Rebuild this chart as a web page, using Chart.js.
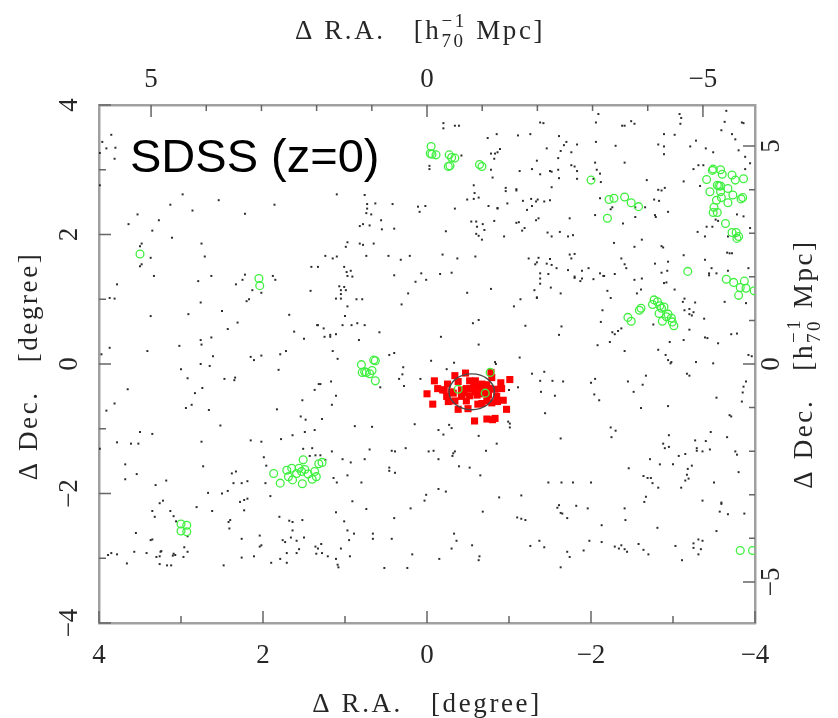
<!DOCTYPE html>
<html>
<head>
<meta charset="utf-8">
<script src="https://cdn.jsdelivr.net/npm/chart.js@4.4.0/dist/chart.umd.min.js"></script>
<style>
  html, body { margin: 0; padding: 0; background: #fff; }
  #wrap { width: 838px; height: 718px; }
</style>
</head>
<body>
<div id="wrap"><canvas id="sky" width="838" height="718"></canvas></div>
<script>
// [dRA, dDec] in degrees
const fieldGalaxies = [
  [3.85,3.54],[3.96,3.43],[3.91,3.33],[3.80,3.34],[3.99,3.26],[3.81,3.17],[3.99,2.76],[2.98,2.62],
  [2.54,2.53],[1.86,2.46],[3.13,2.46],[2.86,2.37],[3.53,2.31],[2.22,2.32],[3.27,2.22],[3.64,2.16],
  [3.35,2.06],[3.11,1.95],[2.75,1.86],[3.48,1.86],[3.50,1.82],[3.37,1.64],[2.71,1.66],[3.48,1.54],
  [3.50,1.51],[1.41,1.50],[1.33,1.50],[3.33,1.36],[2.63,1.36],[2.22,1.38],[1.88,1.36],
  [1.85,1.30],[2.25,1.30],[3.78,1.23],[2.33,1.23],[2.79,1.28],[2.13,1.14],[2.02,1.10],[1.42,1.13],
  [2.17,1.00],[2.20,0.97],[3.87,1.02],[3.81,1.01],[2.76,0.95],[2.50,0.82],[3.37,0.74],[2.91,0.77],
  [1.68,0.76],[2.31,0.64],[1.34,0.60],[2.43,0.54],[1.62,0.50],[2.63,0.41],[1.50,0.39],[2.76,0.37],
  [2.75,0.30],[3.02,0.28],[3.87,0.25],[3.41,0.20],[3.97,0.15],[2.61,0.12],[2.15,0.11],[2.11,0.06],
  [2.02,0.13],[1.79,0.15],[1.72,0.20],[2.76,0.00],[2.65,-0.03],[3.00,-0.08],[1.81,-0.09],[2.92,-0.22],
  [2.47,-0.23],[2.34,-0.21],[2.35,-0.25],[3.65,-0.39],[2.74,-0.37],[2.83,-0.45],[1.37,-0.40],[1.32,-0.31],
  [3.81,-0.61],[1.52,-0.56],[3.91,-0.72],[2.87,-0.63],[2.94,-0.68],[2.66,-0.71],[1.83,-0.70],[1.54,-0.81],
  [1.48,-0.86],[2.52,-0.95],[3.50,-1.05],[3.35,-1.08],[1.49,-1.05],[1.37,-1.02],[1.64,-1.10],[3.78,-1.21],
  [3.61,-1.23],[3.52,-1.23],[2.75,-1.20],[2.15,-1.18],[2.02,-1.20],[1.78,-1.16],[1.51,-1.31],[1.40,-1.30],
  [3.99,-1.31],
  [3.68,-1.55],[3.54,-1.70],[3.68,-1.78],[2.73,-1.58],[3.31,-1.87],[3.18,-1.80],[2.38,-1.69],[2.33,-1.66],
  [2.36,-1.84],[2.26,-1.84],[2.19,-1.81],[1.99,-1.44],[1.96,-1.57],[1.97,-1.84],[1.91,-2.04],[2.67,-1.99],
  [2.50,-2.00],[2.43,-1.96],[3.26,-2.15],[3.22,-2.11],[2.28,-2.13],[2.23,-2.10],[2.19,-2.08],[3.35,-2.27],
  [3.13,-2.27],[2.81,-2.21],[2.62,-2.27],[2.23,-2.26],[3.32,-2.36],[3.09,-2.35],[3.06,-2.43],[2.40,-2.41],
  [2.42,-2.44],[2.41,-2.54],[2.92,-2.66],[3.55,-2.61],[3.35,-2.71],[3.37,-2.72],[2.96,-2.83],[2.92,-2.90],
  [3.07,-2.95],[3.10,-2.96],[3.09,-2.93],[2.97,-2.98],[3.24,-2.89],[3.25,-2.90],[3.30,-2.98],[3.26,-2.97],
  [3.57,-2.90],[3.42,-2.92],[3.89,-2.95],[3.85,-2.92],[3.78,-2.94],[3.66,-3.08],[3.26,-3.09],[3.17,-3.11],
  [3.12,-3.11],[2.48,-3.11],[2.26,-2.99],[2.11,-2.97],[2.26,-2.70],[2.04,-2.65],[2.02,-2.80],[2.04,-2.82],
  [1.80,-2.36],[1.68,-2.42],[1.64,-2.44],[1.52,-2.41],[1.64,-2.57],[1.76,-2.72],[1.73,-2.75],[1.66,-2.68],
  [1.59,-2.73],[1.50,-2.68],[1.56,-2.86],[1.59,-2.92],[1.71,-2.92],[1.79,-3.01],[1.90,-3.07],[1.71,-3.07],
  [1.36,-2.82],[1.35,-2.93],[1.33,-2.85],[1.43,-1.42],[1.36,-1.41],
  [1.30,-1.41],[1.24,-1.48],[1.16,-1.35],[1.03,-1.47],[0.93,-1.52],[0.76,-1.47],[0.46,-1.60],[0.46,-1.65],
  [0.39,-1.68],[0.97,-1.72],[1.14,-1.76],[1.10,-1.83],[0.80,-1.83],[0.43,-1.34],[0.39,-1.35],[-0.02,-1.35],
  [-0.08,-1.34],[-0.32,-1.38],[-0.31,-1.42],[-0.34,-1.35],[-0.14,-1.47],[-0.39,-1.58],[-0.52,-1.60],[-0.65,-1.72],
  [-0.72,-1.34],[0.91,-2.12],[0.74,-2.24],[1.11,-2.29],[0.40,-2.38],[0.20,-2.23],[0.03,-2.11],[0.01,-2.02],
  [-0.14,-1.93],[-0.23,-1.97],[-0.68,-2.28],[-0.88,-2.06],[-1.15,-2.03],[1.01,-2.43],[0.97,-2.57],[0.89,-2.62],
  [0.95,-2.72],[0.66,-2.62],[0.66,-2.70],[0.43,-2.70],[1.05,-2.85],[0.94,-2.97],[1.28,-2.92],[1.21,-2.97],
  [1.29,-2.78],[1.11,-3.01],[1.09,-3.10],[1.08,-3.14],[0.52,-3.15],[0.24,-3.15],[0.18,-2.94],[-0.15,-3.01],
  [-0.33,-2.62],[-0.36,-2.73],[-0.30,-2.85],[-0.55,-2.80],[-0.64,-2.97],[-0.63,-3.03],[-1.10,-2.37],[-1.15,-2.39],
  [-1.20,-2.41],[-1.26,-2.81],[-1.37,-2.73],
  [-2.72,-1.47],[-2.84,-1.55],[-3.00,-1.55],[-3.07,-1.42],[-3.15,-1.39],[-3.29,-1.34],[-3.36,-1.35],[-3.18,-1.62],
  [-3.23,-1.57],[-2.46,-1.61],[-3.78,-1.40],[-3.80,-1.67],[-1.48,-1.83],[-1.64,-1.83],[-1.78,-1.83],[-2.00,-1.83],
  [-2.64,-1.73],[-2.69,-1.76],[-2.73,-1.76],[-2.75,-1.84],[-2.82,-1.91],[-3.17,-1.71],[-3.19,-1.77],[-3.15,-1.80],
  [-3.10,-1.91],[-3.50,-1.83],[-2.67,-2.05],[-2.65,-2.13],[-3.36,-2.11],[-3.59,-2.14],[-3.59,-2.16],[-3.57,-2.28],
  [-3.67,-2.32],[-3.87,-2.31],[-1.61,-2.18],[-1.59,-2.22],[-1.63,-2.30],[-1.65,-2.31],[-1.71,-2.38],[-1.82,-2.19],
  [-1.96,-2.23],[-2.41,-2.23],[-2.42,-2.41],[-2.13,-2.49],[-2.81,-2.53],[-3.53,-2.58],[-1.43,-2.83],[-1.71,-2.90],
  [-1.74,-2.98],[-1.63,-3.14],[-1.91,-2.88],[-1.98,-2.73],[-2.13,-2.75],[-2.29,-2.82],[-2.34,-2.85],[-2.37,-2.80],
  [-2.41,-2.86],[-2.44,-2.90],[-2.58,-2.78],[-2.64,-2.87],[-2.70,-2.94],[-3.03,-2.81],[-3.11,-3.03],[-3.25,-2.77],
  [-3.25,-2.84],[-3.31,-2.71],[-3.36,-2.73],[-3.34,-2.86],[-3.31,-2.94],
  [0.97,1.36],[0.91,1.35],[0.40,1.37],[0.14,1.27],[0.01,1.30],[1.07,1.20],[1.01,1.19],[1.05,1.14],
  [0.99,1.14],[1.11,1.01],[1.05,1.01],[1.05,1.08],[0.86,1.00],[0.79,1.00],[0.97,0.89],[0.31,0.92],
  [0.23,1.09],[-0.49,1.10],[-0.78,1.16],[-1.31,1.14],[-1.34,1.03],[-1.14,1.00],[-1.06,0.89],[1.00,0.74],
  [1.33,0.60],[1.26,0.55],[1.25,0.42],[1.18,0.45],[1.18,0.42],[1.11,0.46],[1.03,0.60],[0.92,0.60],
  [0.85,0.63],[0.76,0.60],[0.83,0.37],[0.58,0.49],[-0.17,0.42],[-0.63,0.68],[-0.56,0.63],[-0.63,0.30],
  [-1.20,0.59],[1.15,0.20],[1.09,0.08],[0.46,0.14],[0.40,0.17],[0.29,-0.05],[0.30,-0.16],[0.34,-0.23],
  [0.28,-0.34],[0.57,-0.36],[0.08,-0.23],[-0.05,0.05],[-0.24,-0.08],[-0.33,0.02],[-0.83,0.03],[-0.84,0.00],
  [-1.13,0.10],[-1.28,-0.15],[-1.11,-0.36],[-1.00,-0.40],[1.30,-0.31],[1.17,-0.27],[1.11,-0.49],[1.16,-0.63],
  [1.28,-0.85],[0.88,-0.96],[0.67,-0.97],[0.15,-0.93],[-0.14,-1.02],[-0.20,-1.09],[-0.30,-0.99],[-0.27,-0.94],
  [-0.63,-1.11],[-0.99,-0.89],[-1.01,-0.92],[-1.01,-0.98],[-0.85,-1.23],[0.70,-1.32],[0.26,-1.30],
  [-0.20,3.72],[-0.20,3.64],[-0.34,3.68],[-0.39,3.68],[-0.85,3.55],[-0.74,3.49],[-1.11,3.53],[-1.26,3.55],
  [-0.89,3.32],[-0.78,3.25],[-0.83,3.25],[-0.86,3.27],[-0.42,3.22],[-0.82,3.17],[-0.03,3.06],[-0.03,3.01],
  [-0.78,3.00],[-0.80,2.88],[-1.13,2.98],[-1.28,3.01],[-1.34,3.14],[-0.57,2.76],[-0.58,2.64],[-0.63,2.57],
  [-0.57,2.55],[-0.49,2.54],[-0.96,2.72],[-0.96,2.67],[-1.09,2.70],[-1.09,2.68],[-0.98,2.48],[-1.17,2.52],
  [-1.27,2.55],[-0.75,2.44],[-0.86,2.41],[-0.86,2.40],[-1.22,2.38],[-1.28,2.44],[-1.33,2.51],[1.10,2.62],
  [0.76,2.61],[0.73,2.47],[0.63,2.48],[0.73,2.40],[0.74,2.33],[0.68,2.31],[0.42,2.47],[0.11,2.43],
  [0.02,2.44],[0.09,2.35],[-0.34,2.40],[0.56,2.22],[0.82,2.13],[0.78,2.16],[0.70,2.14],[0.55,2.08],
  [0.40,2.09],[-0.23,2.05],[-0.54,2.20],[-0.60,2.20],[-0.61,2.12],[-0.68,2.16],[-0.70,2.07],[-0.60,2.01],
  [-0.63,1.98],[-0.67,1.92],[-0.82,2.21],[-0.94,1.97],[-1.09,2.18],[-1.12,2.19],[-1.19,2.10],[-1.16,2.06],
  [-1.33,2.22],[1.24,1.67],[1.15,1.63],[1.10,1.66],[0.99,1.81],[0.97,1.88],[0.82,1.86],[0.78,1.84],
  [0.65,1.86],[1.01,1.50],[0.93,1.44],[0.98,1.42],[0.74,1.67],[0.47,1.67],[0.32,1.61],[0.21,1.67],
  [-0.19,1.69],[-0.37,1.63],[-0.59,1.66],[0.07,1.40],[-0.16,1.39],[-0.30,1.41],[-1.32,1.54],[-1.36,1.64],
  [-1.24,1.63],
  [-1.38,3.73],[-1.42,3.72],[-2.06,3.73],[-2.09,3.86],[-2.38,3.68],[-2.41,3.68],[-2.49,3.75],[-2.53,3.71],
  [-3.08,3.86],[-3.10,3.80],[-3.09,3.71],[-3.65,3.91],[-3.63,3.74],[-3.84,3.73],[-3.86,3.72],[-1.61,3.52],
  [-1.70,3.43],[-1.67,3.38],[-1.83,3.39],[-1.76,3.27],[-1.46,3.33],[-1.63,3.29],[-2.06,3.43],[-2.30,3.37],
  [-2.41,3.11],[-2.82,3.39],[-2.89,3.36],[-2.89,3.24],[-3.02,3.54],[-2.89,3.55],[-3.28,3.45],[-3.21,3.36],
  [-3.40,3.33],[-3.49,3.27],[-3.76,3.47],[-3.80,3.30],[-3.88,3.20],[-3.59,3.61],[-3.72,3.55],[-1.60,3.18],
  [-1.52,2.97],[-1.60,3.00],[-1.76,3.07],[-1.80,3.05],[-1.83,2.98],[-2.05,3.11],[-2.07,3.00],[-2.11,2.94],
  [-1.38,2.93],[-1.50,2.98],[-1.61,2.87],[-1.83,2.86],[-2.03,2.86],[-2.12,2.81],[-2.68,2.84],[-3.25,3.01],
  [-3.31,3.07],[-3.37,3.07],[-1.52,2.73],[-3.13,2.82],[-3.33,2.75],[-3.88,3.01],[-3.94,3.10],[-2.82,2.69],
  [-2.90,2.72],[-2.86,2.68],[-1.35,2.54],[-1.43,2.51],[-1.50,2.53],[-2.11,2.56],[-2.77,2.54],[-2.83,2.52],
  [-2.26,2.42],[-2.24,2.39],[-2.54,2.42],[-2.54,2.27],[-2.39,2.17],[-2.78,2.30],[-2.79,2.27],[-2.94,2.35],
  [-2.66,2.42],[-1.74,2.25],[-2.05,2.30],[-1.36,2.25],[-3.52,2.23],[-3.41,2.12],[-3.48,2.12],[-3.55,2.21],
  [-3.78,2.31],[-3.86,2.28],[-3.94,2.10],[-1.47,2.03],[-1.52,1.97],[-1.72,1.97],[-1.78,1.99],[-1.62,2.04],
  [-2.28,1.87],[-2.53,1.81],[-2.62,1.92],[-2.86,1.82],[-2.88,1.80],[-3.30,2.04],[-3.39,1.97],[-3.67,1.97],
  [-3.76,1.97],[-3.13,1.68],[-3.66,1.72],[-3.72,1.71],[-3.69,1.71],[-1.34,1.57],[-1.46,1.55],[-1.50,1.62],
  [-1.52,1.53],[-1.80,1.70],[-1.74,1.69],[-1.76,1.63],[-1.38,1.40],[-1.48,1.39],[-1.58,1.48],[-1.72,1.45],
  [-1.80,1.35],[-1.89,1.44],[-1.97,1.48],[-2.11,1.40],[-2.16,1.36],[-2.29,1.39],[-2.41,1.54],[-2.43,1.48],
  [-2.37,1.63],[-2.78,1.55],[-2.86,1.41],[-2.93,1.44],[-2.94,1.58],[-3.39,1.61],[-3.47,1.48],[-3.53,1.40],
  [-3.44,1.40],[-3.67,1.44],[-3.92,1.48],
  [-1.38,1.32],[-1.38,1.24],[-1.34,1.02],[-1.51,1.18],[-1.63,1.09],[-1.80,1.33],[-1.87,1.28],[-1.89,1.32],
  [-2.03,1.31],[-2.15,1.36],[-2.20,1.13],[-2.24,1.02],[-2.53,1.30],[-2.62,1.32],[-2.56,1.09],[-2.61,1.15],
  [-2.92,1.26],[-2.89,1.25],[-3.02,1.15],[-3.12,0.96],[-3.14,1.01],[-3.27,0.95],[-3.44,1.37],[-3.63,0.96],
  [-3.89,0.94],[-2.14,0.83],[-2.12,0.65],[-2.37,0.55],[-2.29,0.46],[-2.26,0.49],[-2.33,0.51],[-2.08,0.29],
  [-2.23,0.34],[-2.41,0.20],[-2.76,0.61],[-2.96,0.34],[-3.13,0.37],[-3.20,0.53],[-3.20,0.77],[-3.23,0.75],
  [-3.25,0.80],[-3.14,0.83],[-3.20,0.85],[-3.38,0.70],[-3.39,0.41],[-3.42,0.40],[-3.55,0.32],[-3.71,0.46],
  [-3.78,0.47],[-3.92,0.14],[-3.96,0.12],[-2.82,0.22],[-2.91,0.14],[-2.94,0.06],[-2.97,0.01],[-2.98,0.03],
  [-3.28,0.03],[-3.49,0.01],[-1.64,0.58],[-1.61,0.45],[-1.43,-0.12],[-1.38,-0.26],[-1.53,-0.26],[-1.66,-0.27],
  [-1.39,-0.43],[-1.56,-0.49],[-1.44,-0.76],[-1.63,-1.15],[-2.00,-0.29],[-2.05,-0.23],[-2.04,-0.47],[-2.10,-0.56],
  [-2.45,-0.27],[-2.52,-0.43],[-2.67,-0.18],[-2.63,-0.32],[-2.61,-0.68],[-2.94,-0.65],[-3.17,-0.15],[-3.20,-0.18],
  [-3.53,-0.52],[-3.69,-0.79],[-3.71,-0.81],[-3.84,-0.58],[-3.85,-0.44],[-3.89,-0.27],[-3.86,-0.35],[-3.46,-1.05],
  [-3.66,-1.13],[-3.27,-1.18],[-3.40,-1.19],[-3.29,-1.30],[-3.45,-1.32],[-2.95,-1.10],[-2.88,-1.23],[-2.90,-1.30],
  [-2.95,-1.28],[-2.24,-0.98],[-2.30,-1.03],[-2.25,-1.13],[-3.76,-1.35]
];

const groupMembers = [
  [3.50,1.70],[2.05,1.32],[2.04,1.21],
  [0.65,0.06],[0.63,0.05],[0.80,-0.01],[0.67,-0.10],[0.79,-0.13],[0.74,-0.13],[0.70,-0.15],[0.76,-0.12],[0.63,-0.26],
  [-0.38,-0.39],[-0.71,-0.45],[-0.77,-0.13],
  [3.00,-2.47],[2.93,-2.49],[3.00,-2.58],[2.93,-2.59],
  [1.87,-1.69],[1.79,-1.84],[1.71,-1.64],[1.69,-1.74],[1.65,-1.61],[1.64,-1.79],[1.59,-1.69],[1.56,-1.61],
  [1.53,-1.66],[1.51,-1.48],[1.52,-1.85],[1.49,-1.63],[1.45,-1.70],[1.40,-1.78],[1.37,-1.66],[1.32,-1.54],
  [1.28,-1.52],[1.35,-1.74],
  [-0.05,3.36],[-0.04,3.25],[-0.06,3.24],[-0.11,3.23],[-0.27,3.23],[-0.30,3.19],[-0.34,3.18],[-0.28,3.06],
  [-0.26,3.05],[-0.64,3.08],[-0.67,3.05],
  [-2.00,2.84],[-2.22,2.54],[-2.28,2.56],[-2.41,2.58],[-2.49,2.49],[-2.58,2.43],[-2.20,2.25],[-3.18,1.43],
  [-3.41,2.85],[-3.49,3.01],[-3.48,2.99],[-3.58,3.00],[-3.60,2.93],[-3.72,2.92],[-3.76,2.84],[-3.86,2.86],
  [-3.54,2.76],[-3.56,2.75],[-3.58,2.75],[-3.67,2.71],[-3.45,2.66],[-3.58,2.66],[-3.59,2.57],[-3.73,2.61],
  [-3.83,2.55],[-3.85,2.57],[-3.53,2.53],[-3.67,2.49],[-3.50,2.42],[-3.54,2.34],[-3.49,2.34],[-3.64,2.17],
  [-3.72,2.03],[-3.77,2.03],[-3.80,1.97],[-3.78,1.94],
  [-3.65,1.31],[-3.74,1.26],[-3.87,1.28],[-3.82,1.18],[-3.89,1.17],[-3.80,1.06],[-3.99,1.13],
  [-2.45,0.72],[-2.49,0.66],[-2.59,0.83],[-2.61,0.86],[-2.75,0.92],[-2.77,0.99],[-2.81,0.96],[-2.84,0.90],
  [-2.86,0.86],[-2.89,0.88],[-2.83,0.78],[-2.87,0.66],[-2.92,0.73],[-2.94,0.77],[-2.98,0.71],[-2.99,0.65],
  [-3.01,0.59],
  [-3.82,-2.88],[-3.97,-2.88]
];

const clusterMembers = [
  [-0.09,-0.26],[-0.34,-0.18],[-0.47,-0.14],[-0.78,-0.13],[-1.01,-0.24],[-0.90,-0.29],[-0.25,-0.31],[-0.38,-0.27],
  [-0.52,-0.26],[-0.59,-0.26],[-0.67,-0.31],[-0.73,-0.32],[-0.79,-0.21],[-0.13,-0.38],[-0.21,-0.40],[-0.30,-0.43],
  [-0.42,-0.40],[-0.48,-0.38],[-0.54,-0.38],[-0.63,-0.36],[-0.69,-0.38],[-0.75,-0.38],[-0.83,-0.39],[-0.91,-0.38],
  [0.00,-0.46],[-0.32,-0.45],[-0.45,-0.45],[-0.52,-0.49],[-0.61,-0.48],[-0.67,-0.46],[-0.75,-0.48],[-0.85,-0.50],
  [-0.86,-0.58],[-0.93,-0.56],[-0.07,-0.62],[-0.26,-0.58],[-0.34,-0.57],[-0.48,-0.57],[-0.62,-0.62],[-0.67,-0.61],
  [-0.73,-0.57],[-0.79,-0.60],[-0.97,-0.70],[-0.38,-0.70],[-0.50,-0.69],[-0.58,-0.88],[-0.73,-0.85],[-0.80,-0.86],
  [-0.83,-0.84],[-0.57,-0.32],[-0.19,-0.40],[-0.24,-0.50],[-0.42,-0.50],[-0.59,-0.43]
];

const clusterCircle = { ra: -0.545, dec: -0.43, radius: 0.277 };

const DEG_PER_MPC = 0.673;
const degTicks = [4, 3, 2, 1, 0, -1, -2, -3, -4];
const degLabels = [4, 2, 0, -2, -4];
const mpcTicks = [5, 4, 3, 2, 1, 0, -1, -2, -3, -4, -5];
const mpcLabels = [5, 0, -5];

const SERIF = '"Liberation Serif", "Times New Roman", serif';
const FS = 27;
const TITLE_SPACING = '2.6px';

function fmt(v) { return v < 0 ? '\u2212' + Math.abs(v) : String(v); }
function pts(list) { return list.map(p => ({ x: p[0], y: p[1] })); }

function drawPlainTitle(ctx, cx, cy, angle, text, spacing) {
  ctx.save();
  ctx.translate(cx, cy);
  ctx.rotate(angle);
  ctx.font = `${FS}px ${SERIF}`;
  ctx.letterSpacing = spacing || '0px';
  ctx.textAlign = 'center';
  ctx.textBaseline = 'middle';
  ctx.fillText(text, 0, 0);
  ctx.restore();
}

function drawMpcTitle(ctx, cx, cy, angle, lead) {
  ctx.save();
  ctx.translate(cx, cy);
  ctx.rotate(angle);
  ctx.letterSpacing = TITLE_SPACING;
  const big = `${FS}px ${SERIF}`;
  const small = `${Math.round(FS * 0.7)}px ${SERIF}`;
  const a = lead + '[h', b = ' Mpc]';
  ctx.font = big;
  const wa = ctx.measureText(a).width, wb = ctx.measureText(b).width;
  ctx.font = small;
  const ws = Math.max(ctx.measureText('\u22121').width, ctx.measureText('70').width);
  let xx = -(wa + ws + wb) / 2;
  ctx.textAlign = 'left';
  ctx.textBaseline = 'middle';
  ctx.font = big; ctx.fillText(a, xx, 0); xx += wa;
  ctx.font = small;
  ctx.fillText('\u22121', xx, -FS * 0.38);
  ctx.fillText('70', xx, FS * 0.38);
  xx += ws;
  ctx.font = big; ctx.fillText(b, xx, 0);
  ctx.restore();
}

const frameDecor = {
  id: 'frameDecor',
  afterDatasetsDraw(chart) {
    const { ctx, scales: { x, y } } = chart;
    const cx = x.getPixelForValue(clusterCircle.ra);
    const cy = y.getPixelForValue(clusterCircle.dec);
    const rx = Math.abs(x.getPixelForValue(clusterCircle.ra + clusterCircle.radius) - cx);
    const ry = Math.abs(y.getPixelForValue(clusterCircle.dec + clusterCircle.radius) - cy);
    ctx.save();
    ctx.beginPath();
    ctx.ellipse(cx, cy, rx, ry, 0, 0, Math.PI * 2);
    ctx.strokeStyle = '#4a4a4a';
    ctx.lineWidth = 1.4;
    ctx.stroke();
    ctx.restore();
  },
  afterDraw(chart) {
    const { ctx, chartArea: a, scales: { x, y, x2, y2 } } = chart;
    ctx.save();

    // inward tick marks
    ctx.strokeStyle = '#666';
    ctx.lineWidth = 1.5;
    ctx.beginPath();
    degTicks.forEach(v => {
      const len = v % 2 === 0 ? 12 : 7;
      const px = x.getPixelForValue(v);
      ctx.moveTo(px, a.bottom); ctx.lineTo(px, a.bottom - len);
      const py = y.getPixelForValue(v);
      ctx.moveTo(a.left, py); ctx.lineTo(a.left + len, py);
    });
    mpcTicks.forEach(m => {
      const len = m % 5 === 0 ? 12 : 6;
      const px = x2.getPixelForValue(m);
      ctx.moveTo(px, a.top); ctx.lineTo(px, a.top + len);
      const py = y2.getPixelForValue(m);
      ctx.moveTo(a.right, py); ctx.lineTo(a.right - len, py);
    });
    ctx.stroke();

    // tick labels
    ctx.fillStyle = '#262626';
    ctx.font = `${FS}px ${SERIF}`;
    ctx.textAlign = 'center';
    ctx.textBaseline = 'middle';
    degLabels.forEach(v => {
      ctx.fillText(fmt(v), x.getPixelForValue(v), a.bottom + 33);
      drawPlainTitle(ctx, a.left - 29, y.getPixelForValue(v), -Math.PI / 2, fmt(v));
    });
    ctx.font = `${FS}px ${SERIF}`;
    mpcLabels.forEach(m => {
      ctx.fillText(fmt(m), x2.getPixelForValue(m), a.top - 25);
      drawPlainTitle(ctx, a.right + 17, y2.getPixelForValue(m), -Math.PI / 2, fmt(m));
    });

    // axis titles
    drawPlainTitle(ctx, (a.left + a.right) / 2, a.bottom + 82, 0, '\u0394 R.A.   [degree]', TITLE_SPACING);
    drawPlainTitle(ctx, 30, (a.top + a.bottom) / 2 + 2, -Math.PI / 2, '\u0394 Dec.   [degree]', TITLE_SPACING);
    drawMpcTitle(ctx, (a.left + a.right) / 2 - 7, 32, 0, '\u0394 R.A.   ');
    drawMpcTitle(ctx, a.right + 50, (a.top + a.bottom) / 2, -Math.PI / 2, '\u0394 Dec.   ');

    // panel label
    ctx.fillStyle = '#000';
    ctx.font = '47px "Liberation Sans", Arial, sans-serif';
    ctx.textAlign = 'left';
    ctx.textBaseline = 'alphabetic';
    ctx.fillText('SDSS (z=0)', 130, 172);
    ctx.restore();
  }
};

const hiddenAxis = (extra) => Object.assign({
  type: 'linear',
  ticks: { display: false },
  grid: { display: true, drawOnChartArea: false, drawTicks: false },
  border: { display: true, color: '#a0a0a0', width: 2.5 }
}, extra);

new Chart(document.getElementById('sky'), {
  type: 'scatter',
  data: {
    datasets: [
      {
        label: 'group galaxies',
        data: pts(groupMembers),
        pointStyle: 'circle',
        pointRadius: 3.9,
        backgroundColor: 'rgba(0,0,0,0)',
        borderColor: '#3ff03f',
        borderWidth: 1.3,
        order: 0
      },
      {
        label: 'cluster members',
        data: pts(clusterMembers),
        pointStyle: 'rect',
        pointRadius: 5,
        backgroundColor: '#f00',
        borderWidth: 0,
        order: 1
      },
      {
        label: 'field galaxies',
        data: pts(fieldGalaxies),
        pointStyle: 'rect',
        pointRadius: 1.4,
        backgroundColor: '#2a2a2a',
        borderWidth: 0,
        order: 2
      }
    ]
  },
  options: {
    responsive: false,
    animation: false,
    events: [],
    layout: { padding: 0 },
    plugins: { legend: { display: false }, tooltip: { enabled: false } },
    scales: {
      x: hiddenAxis({ axis: 'x', position: 'bottom', min: -4, max: 4, reverse: true,
        afterFit: s => { s.height = 95; } }),
      x2: hiddenAxis({ axis: 'x', position: 'top', min: -4 / DEG_PER_MPC, max: 4 / DEG_PER_MPC, reverse: true,
        afterFit: s => { s.height = 105; } }),
      y: hiddenAxis({ axis: 'y', position: 'left', min: -4, max: 4,
        afterFit: s => { s.width = 99; } }),
      y2: hiddenAxis({ axis: 'y', position: 'right', min: -4 / DEG_PER_MPC, max: 4 / DEG_PER_MPC,
        afterFit: s => { s.width = 83; } })
    }
  },
  plugins: [frameDecor]
});
</script>
</body>
</html>
